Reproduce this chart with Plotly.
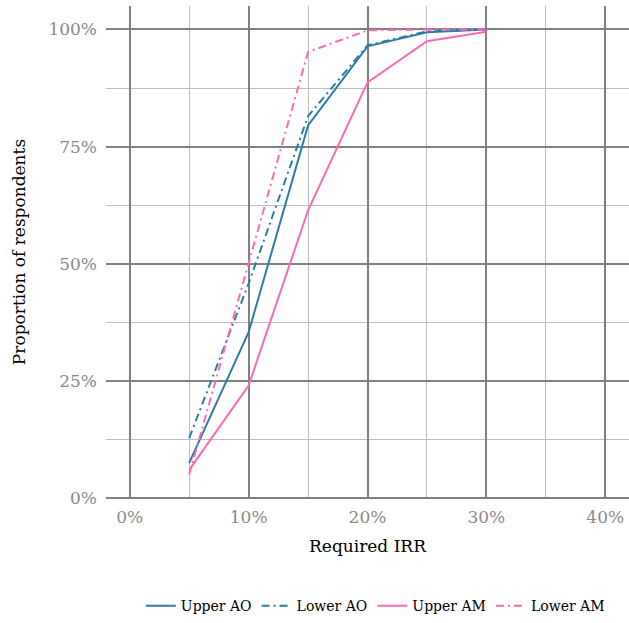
import plotly.graph_objects as go

# Required IRR thresholds (%) and cumulative share of respondents (%)
irr = [5, 10, 15, 20, 25, 30]
upper_ao = [7.5, 35.4, 79.5, 96.4, 99.4, 100.0]
lower_ao = [12.8, 45.8, 81.5, 96.6, 99.6, 100.0]
upper_am = [6.0, 24.0, 61.4, 88.7, 97.5, 99.5]
lower_am = [5.0, 50.0, 95.2, 99.8, 100.0, 100.0]

series_names = ["Upper AO", "Lower AO", "Upper AM", "Lower AM"]
series_values = [upper_ao, lower_ao, upper_am, lower_am]

x_ticks = [0, 10, 20, 30, 40]
x_tick_labels = ["0%", "10%", "20%", "30%", "40%"]
y_ticks = [0, 25, 50, 75, 100]
y_tick_labels = ["0%", "25%", "50%", "75%", "100%"]

BLUE = "#2f7ca3"
PINK = "#ff69b4"
styles = [
    (BLUE, "solid"),
    (BLUE, "8px,4px,2px,4px"),
    (PINK, "solid"),
    (PINK, "8px,4px,2px,4px"),
]

FONT = "DejaVu Serif"

fig = go.Figure()
for name, vals, (color, dash) in zip(series_names, series_values, styles):
    fig.add_trace(go.Scatter(
        x=irr, y=vals, name=name, mode="lines",
        line=dict(color=color, width=2, dash=dash),
    ))

MAJOR = "#808080"
MINOR = "#bdbdbd"

fig.update_layout(
    width=629, height=623,
    margin=dict(l=106, r=0, t=6, b=125),
    plot_bgcolor="white", paper_bgcolor="white",
    font=dict(family=FONT, color="black", size=15),
    showlegend=True,
    legend=dict(
        orientation="h", x=0.515, xanchor="center", y=-0.22, yanchor="middle",
        font=dict(family=FONT, size=14, color="black"),
        itemwidth=30, tracegroupgap=0,
    ),
    xaxis=dict(
        range=[-2, 42], tickvals=x_ticks, ticktext=x_tick_labels,
        showgrid=True, gridcolor=MAJOR, gridwidth=2,
        minor=dict(dtick=5, tick0=0, showgrid=True, gridcolor=MINOR, gridwidth=1),
        zeroline=False, showline=False, ticks="", ticklabelstandoff=7,
        tickfont=dict(family=FONT, size=17, color="#8a8a8a"),
        title=dict(text="Required IRR", font=dict(family=FONT, size=17, color="black"), standoff=14),
    ),
    yaxis=dict(
        range=[0, 105], tickvals=y_ticks, ticktext=y_tick_labels,
        showgrid=True, gridcolor=MAJOR, gridwidth=2,
        minor=dict(dtick=12.5, tick0=0, showgrid=True, gridcolor=MINOR, gridwidth=1),
        zeroline=True, zerolinecolor=MAJOR, zerolinewidth=2,
        showline=False, ticks="", ticklabelstandoff=8,
        tickfont=dict(family=FONT, size=17, color="#8a8a8a"),
        title=dict(text="Proportion of respondents", font=dict(family=FONT, size=17, color="black"), standoff=18),
    ),
)

fig.write_html("out.html")
